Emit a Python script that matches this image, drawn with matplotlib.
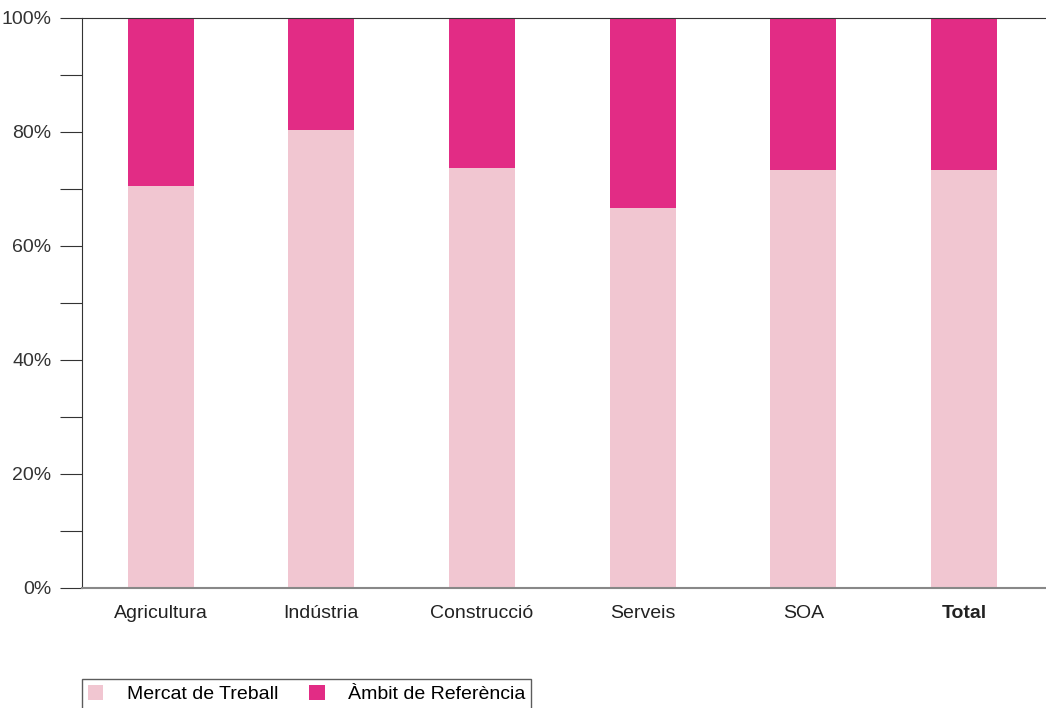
import matplotlib
matplotlib.use("Agg")
import matplotlib.pyplot as plt
from matplotlib.ticker import MultipleLocator, FuncFormatter

categories = ["Agricultura", "Indústria", "Construcció", "Serveis", "SOA", "Total"]
mercat = [70.5, 80.4, 73.7, 66.7, 73.3, 73.3]
ambit = [100 - v for v in mercat]

plt.rcParams['font.family'] = ['Liberation Sans', 'DejaVu Sans']
fig = plt.figure(figsize=(10.46, 7.08), dpi=100)
ax = fig.add_axes([82/1046, 120/708, 964/1046, 570/708])
x = range(len(categories))
b1 = ax.bar(x, mercat, width=0.41, color="#f1c6d1", label="Mercat de Treball")
b2 = ax.bar(x, ambit, bottom=mercat, width=0.41, color="#e22c85", label="Àmbit de Referència")
ax.set_xlim(-0.49, 5.51)
ax.set_ylim(0, 100)
ax.yaxis.set_major_locator(MultipleLocator(20))
ax.yaxis.set_minor_locator(MultipleLocator(10))
ax.yaxis.set_major_formatter(FuncFormatter(lambda v, p: f"{int(v)}%"))
ax.tick_params(axis='y', which='both', length=16, width=0.8, colors='#333333', labelsize=14, pad=6)
ax.tick_params(axis='x', length=0, labelsize=14, pad=12, colors='#222222')
ax.set_xticks(list(x))
ax.set_xticklabels(categories)
ax.get_xticklabels()[-1].set_fontweight('bold')
ax.spines['right'].set_visible(False)
ax.spines['left'].set_color('#333333')
ax.spines['top'].set_color('#333333')
ax.spines['bottom'].set_color('#888888')
ax.spines['bottom'].set_linewidth(1.5)
leg = fig.legend(handles=[b1, b2], loc='upper left', bbox_to_anchor=(82/1046, 1 - 679/708),
                 borderaxespad=0, ncol=2, fontsize=14, frameon=True, fancybox=False,
                 edgecolor='#333333', handlelength=0.8, handleheight=0.8,
                 columnspacing=1.6, borderpad=0.3, handletextpad=1.2)
leg.get_frame().set_linewidth(1.0)
fig.savefig("out.png", dpi=100)
